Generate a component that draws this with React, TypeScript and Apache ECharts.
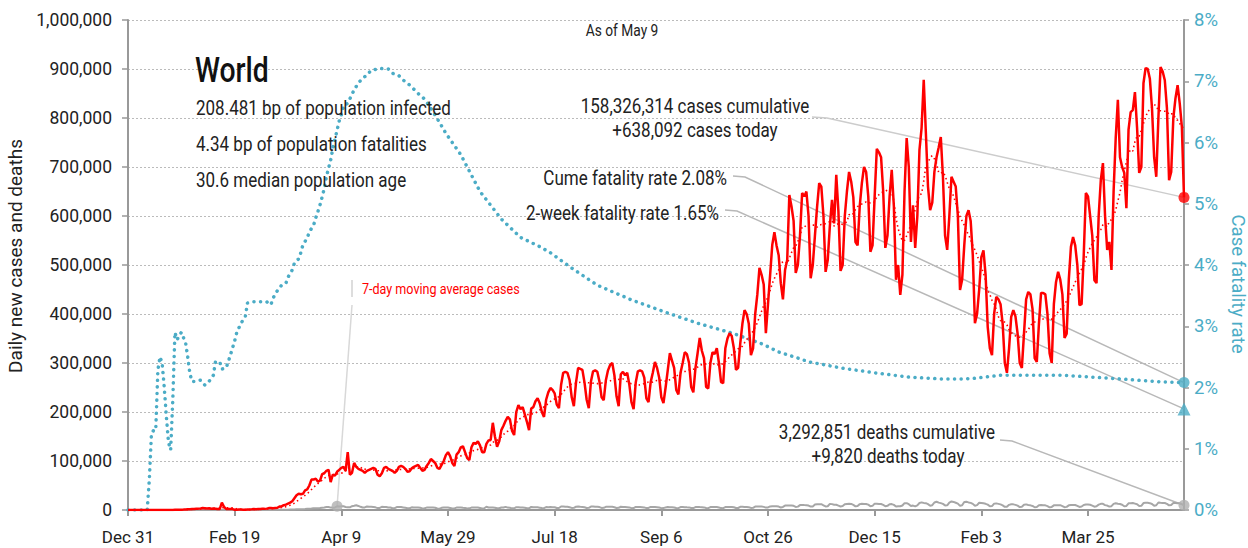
import React, { useEffect, useRef } from "react";
import * as echarts from "echarts";

// ---------- data ----------
const START_UTC = Date.UTC(2019, 11, 31); // day 0 = Dec 31
const MONTHS = ["Jan", "Feb", "Mar", "Apr", "May", "Jun", "Jul", "Aug", "Sep", "Oct", "Nov", "Dec"];
const X_TICK_INTERVAL = 50;
const LAST_DAY = 495;

// Daily new cases, thousands (weeks Tue..Mon)
const casesK: number[] = [
  0, 0, 0, 0, 0, 0, 0,
  0, 0, 0, 0, 0, 0, 0,
  0, 0, 0, 0, 0, 0, 0.1,
  0.1, 0.3, 0.3, 0.5, 0.7, 0.8, 1.0,
  1.5, 1.7, 2.0, 2.1, 2.6, 2.8, 3.2,
  3.9, 3.7, 3.2, 3.4, 2.7, 3.0, 2.5,
  2.0, 2.0, 15.1, 6.5, 2.1, 2.0, 2.0,
  1.8, 0.6, 0.6, 1.0, 1.0, 0.6, 0.7,
  0.9, 1.1, 1.4, 1.8, 1.7, 2.0, 1.9,
  2.5, 2.3, 2.8, 3.9, 4.0, 3.8, 4.2,
  4.6, 7.0, 7.5, 10, 11, 13, 15,
  18, 24, 30, 33, 32, 33, 40,
  42, 50, 62, 62, 64, 58, 60,
  73, 75, 80, 82, 57, 72, 70,
  78, 82, 86, 88, 80, 118, 72,
  76, 96, 88, 84, 82, 80, 76,
  80, 82, 84, 86, 84, 72, 69,
  75, 86, 88, 84, 82, 80, 76,
  80, 88, 90, 88, 84, 78, 79,
  85, 88, 90, 92, 86, 80, 82,
  90, 96, 104, 100, 96, 86, 84,
  92, 100, 112, 118, 110, 96, 90,
  113, 118, 128, 130, 118, 106, 102,
  128, 137, 135, 140, 132, 118, 118,
  135, 142, 143, 178, 150, 129, 140,
  163, 172, 182, 190, 185, 162, 153,
  200, 214, 206, 210, 195, 180, 163,
  207, 210, 222, 228, 218, 200, 190,
  225, 240, 249, 245, 238, 215, 208,
  255, 280, 282, 280, 265, 230, 212,
  260, 290, 288, 286, 260, 225, 208,
  262, 283, 285, 282, 262, 230, 224,
  265, 285, 296, 300, 275, 232, 212,
  277, 282, 275, 280, 256, 220, 206,
  260, 283, 285, 283, 270, 228, 220,
  261, 280, 302, 290, 270, 230, 218,
  250, 285, 320, 305, 290, 245, 236,
  280, 300, 322, 318, 300, 251, 240,
  290, 320, 351, 325, 310, 251, 248,
  300, 322, 318, 330, 300, 261, 259,
  330, 350, 361, 355, 330, 286, 290,
  340, 380, 408, 400, 380, 316, 330,
  400, 440, 494, 480, 460, 361, 420,
  480, 541, 567, 540, 520, 463, 430,
  490, 510, 643, 620, 590, 484, 500,
  560, 647, 640, 650, 600, 473, 500,
  560, 618, 667, 660, 600, 486, 510,
  580, 633, 585, 684, 610, 488, 500,
  600, 650, 690, 670, 638, 547, 540,
  620, 667, 700, 690, 640, 527, 540,
  640, 737, 730, 720, 650, 535, 560,
  640, 694, 620, 470, 500, 439, 480,
  650, 759, 700, 547, 622, 535, 600,
  735, 780, 878, 770, 660, 612, 627,
  690, 720, 740, 761, 680, 560, 531,
  600, 680, 670, 660, 600, 449, 470,
  540, 600, 612, 590, 520, 381, 400,
  450, 516, 530, 480, 373, 330, 316,
  400, 435, 430, 420, 380, 300, 280,
  330, 394, 408, 395, 360, 300, 290,
  360, 430, 445, 440, 410, 310, 302,
  380, 443, 443, 440, 400, 320, 300,
  420, 465, 486, 470, 440, 351, 360,
  470, 537, 557, 540, 500, 418, 420,
  520, 647, 640, 600, 560, 469, 463,
  600, 673, 708, 600, 531, 547, 490,
  650, 760, 837, 720, 700, 688, 616,
  776, 812, 816, 853, 780, 688, 700,
  871, 902, 900, 880, 820, 720, 680,
  800, 904, 895, 877, 820, 673, 690,
  800, 840, 867, 830, 782, 638,
];

// Daily deaths, thousands (weeks Tue..Mon)
const deathsK: number[] = [
  0, 0, 0, 0, 0, 0, 0,
  0, 0, 0, 0, 0, 0, 0,
  0, 0, 0, 0, 0, 0, 0,
  0.01, 0.01, 0.01, 0.02, 0.02, 0.02, 0.03,
  0.03, 0.04, 0.04, 0.05, 0.06, 0.06, 0.06,
  0.07, 0.07, 0.08, 0.09, 0.09, 0.1, 0.1,
  0.1, 0.1, 0.25, 0.14, 0.14, 0.14, 0.1,
  0.1, 0.13, 0.12, 0.1, 0.1, 0.1, 0.15,
  0.07, 0.05, 0.05, 0.06, 0.07, 0.05, 0.07,
  0.08, 0.1, 0.1, 0.1, 0.1, 0.2, 0.2,
  0.3, 0.3, 0.35, 0.4, 0.4, 0.5, 0.8,
  0.9, 1.0, 1.3, 1.4, 1.6, 1.7, 2.0,
  2.4, 2.6, 2.9, 3.6, 3.4, 3.4, 4.0,
  4.7, 5.0, 6.0, 6.1, 4.9, 4.7, 5.3,
  7.5, 7.0, 7.4, 7.5, 6.2, 5.7, 5.5,
  7.7, 8.5, 9.6, 8.3, 6.5, 5.0, 5.3,
  7.1, 6.6, 6.8, 6.1, 5.4, 3.9, 4.3,
  6.4, 6.2, 6.3, 5.3, 5.1, 3.6, 3.7,
  6.0, 6.1, 5.9, 5.3, 4.6, 3.5, 3.6,
  5.4, 5.2, 5.2, 5.2, 4.6, 3.3, 3.5,
  4.9, 5.0, 5.1, 5.0, 4.5, 3.0, 2.7,
  4.4, 5.3, 5.0, 5.0, 4.3, 3.1, 3.2,
  4.9, 5.2, 5.3, 4.6, 4.2, 3.1, 3.4,
  4.9, 5.2, 4.9, 5.0, 4.2, 3.2, 3.6,
  6.6, 5.1, 5.1, 5.0, 4.6, 3.5, 3.5,
  5.2, 5.2, 6.4, 4.9, 4.7, 3.4, 3.5,
  5.7, 5.5, 5.2, 5.1, 4.6, 3.6, 3.5,
  6.3, 5.8, 5.5, 5.6, 4.8, 3.9, 3.8,
  6.1, 5.8, 6.1, 5.8, 5.7, 4.1, 4.0,
  7.1, 7.0, 6.5, 6.6, 5.5, 4.3, 4.4,
  6.6, 6.9, 6.5, 6.3, 5.6, 4.2, 4.4,
  6.9, 7.0, 6.4, 6.7, 6.0, 4.2, 4.5,
  6.5, 6.6, 6.5, 6.5, 5.6, 4.2, 4.4,
  6.6, 6.1, 6.1, 5.8, 5.3, 3.8, 4.0,
  6.2, 6.0, 5.9, 5.8, 5.3, 3.9, 4.3,
  6.3, 6.2, 6.0, 5.7, 5.0, 3.8, 3.9,
  5.3, 6.1, 5.5, 5.6, 5.2, 4.0, 3.8,
  6.0, 6.0, 5.8, 5.5, 5.3, 4.1, 4.0,
  6.0, 6.2, 5.9, 5.7, 5.3, 4.0, 3.8,
  5.9, 6.1, 6.1, 6.0, 5.2, 3.9, 3.8,
  6.0, 6.3, 6.0, 6.3, 5.5, 4.0, 4.1,
  6.4, 6.6, 6.3, 6.3, 5.6, 4.3, 4.4,
  7.0, 7.2, 6.9, 7.1, 6.4, 4.9, 5.2,
  7.3, 7.8, 7.8, 7.6, 7.0, 5.2, 6.2,
  9.0, 9.4, 9.0, 9.4, 8.6, 6.3, 6.9,
  10.0, 10.3, 10.0, 9.8, 9.0, 6.9, 7.3,
  11.0, 11.6, 11.7, 11.8, 9.6, 7.3, 7.6,
  12.5, 12.0, 10.6, 10.6, 8.9, 7.2, 8.0,
  11.7, 12.4, 12.7, 12.4, 10.5, 7.5, 8.3,
  12.0, 12.6, 12.4, 12.2, 11.0, 7.7, 8.5,
  13.0, 12.8, 12.4, 12.2, 10.5, 7.6, 8.5,
  11.8, 12.0, 10.5, 7.0, 7.5, 7.6, 9.2,
  14.0, 14.0, 11.8, 8.0, 9.0, 7.5, 9.5,
  14.2, 15.5, 14.5, 14.0, 12.0, 8.8, 9.8,
  15.3, 16.8, 15.0, 14.0, 12.5, 9.4, 9.5,
  15.2, 17.5, 16.5, 14.8, 13.0, 8.5, 9.6,
  16.5, 16.7, 15.5, 14.5, 12.5, 8.5, 10.0,
  14.8, 14.4, 13.6, 12.6, 11.0, 7.5, 8.0,
  13.0, 13.5, 12.5, 11.5, 9.5, 6.5, 6.5,
  10.5, 11.6, 11.5, 10.5, 8.8, 6.0, 6.8,
  10.8, 11.5, 10.3, 9.5, 8.3, 5.6, 6.1,
  9.6, 10.0, 9.7, 9.5, 8.0, 5.6, 6.3,
  9.5, 9.9, 9.5, 9.8, 8.0, 5.7, 6.4,
  9.5, 10.1, 10.0, 10.2, 8.5, 6.2, 7.0,
  10.3, 11.2, 11.1, 10.6, 9.0, 6.8, 7.7,
  11.0, 12.6, 12.6, 10.0, 9.0, 7.0, 7.8,
  12.5, 13.9, 12.9, 12.3, 10.7, 7.6, 8.3,
  13.6, 14.0, 14.3, 13.0, 11.7, 8.2, 8.6,
  14.2, 14.8, 14.6, 14.0, 12.3, 8.6, 9.7,
  15.3, 14.8, 14.4, 14.3, 12.6, 9.4, 10.4,
  14.1, 14.3, 14.0, 13.8, 12.1, 9.82,
];

// Cumulative case fatality rate (%), [day, value]
const cfrPoints: [number, number][] = [
  [0, 0], [9, 0], [10, 0.5], [11, 1.25], [12, 1.3], [13, 1.3], [14, 2.28], [15, 2.5], [16, 2.4],
  [17, 2.0], [18, 1.52], [19, 1.1], [20, 0.98], [21, 1.8], [22, 2.9], [23, 2.78], [25, 2.9],
  [27, 2.73], [28, 2.5], [29, 2.23], [30, 2.1], [31, 2.1], [34, 2.12], [36, 2.04], [38, 2.1],
  [40, 2.2], [41, 2.42], [43, 2.42], [44, 2.3], [46, 2.32], [47, 2.42], [48, 2.53], [50, 2.76],
  [51, 2.9], [53, 3.05], [55, 3.16], [56, 3.38], [59, 3.4], [62, 3.4], [65, 3.4], [67, 3.35],
  [68, 3.46], [70, 3.58], [72, 3.67], [74, 3.7], [75, 3.8], [77, 3.92], [78, 4.03], [80, 4.1],
  [81, 4.2], [82, 4.33], [84, 4.44], [85, 4.54], [87, 4.65], [88, 4.77], [89, 4.87], [90, 4.98],
  [91, 5.11], [92, 5.25], [93, 5.44], [94, 5.58], [95, 5.71], [96, 5.9], [97, 6.05], [98, 6.2],
  [99, 6.35], [100, 6.45], [101, 6.6], [103, 6.64], [106, 6.86], [108, 6.97], [110, 7.05],
  [112, 7.1], [114, 7.18], [117, 7.2], [120, 7.21], [122, 7.2], [124, 7.13], [127, 7.09],
  [129, 7.02], [132, 6.94], [134, 6.87], [136, 6.8], [139, 6.71], [141, 6.61], [143, 6.5],
  [146, 6.33], [149, 6.15], [156, 5.8], [165, 5.2], [175, 4.75], [184, 4.45], [193, 4.3],
  [198, 4.2], [208, 3.95], [220, 3.67], [236, 3.43], [251, 3.24], [267, 3.05], [283, 2.89],
  [292, 2.78], [298, 2.7], [305, 2.58], [314, 2.48], [319, 2.42], [334, 2.32], [350, 2.24],
  [366, 2.17], [381, 2.14], [391, 2.14], [397, 2.15], [409, 2.2], [412, 2.2], [438, 2.2],
  [461, 2.15], [485, 2.09], [495, 2.08],
];
const TWO_WEEK_CFR = 1.65;

// ---------- styles ----------
const FONT = "Roboto, 'Liberation Sans', sans-serif";
const RED = "#ff0000";
const TEAL = "#4bacc6";
const GRAY = "#a6a6a6";
const TEXT = "#222222";
const SQUEEZE = 0.81; // horizontal squeeze to mimic the condensed face

const dayLabel = (d: number) => {
  const dt = new Date(START_UTC + d * 86400000);
  return MONTHS[dt.getUTCMonth()] + " " + dt.getUTCDate();
};

export default function App() {
  const ref = useRef<HTMLDivElement>(null);

  useEffect(() => {
    if (!ref.current) return;
    const chart = echarts.init(ref.current, null, { renderer: "svg" });

    const cases = casesK.map((v, i) => [i, v * 1000]);
    const deaths = deathsK.map((v, i) => [i, v * 1000]);
    const casesMA = casesK.map((_, i) => {
      const s = Math.max(0, i - 6);
      let sum = 0;
      for (let j = s; j <= i; j++) sum += casesK[j];
      return [i, (sum / (i - s + 1)) * 1000];
    });
    const lastCfr = cfrPoints[cfrPoints.length - 1];

    chart.setOption({
      animation: false,
      grid: {
        left: 128,
        right: 64,
        top: 20,
        bottom: 38,
        containLabel: false,
        outerBoundsMode: "none",
      },
      xAxis: {
        type: "value",
        min: 0,
        max: LAST_DAY,
        interval: X_TICK_INTERVAL,
        axisLine: { show: true, onZero: false, lineStyle: { color: "#999", width: 2 } },
        axisTick: { show: true, length: 6, lineStyle: { color: "#999", width: 2 } },
        axisLabel: {
          formatter: (v: number) => dayLabel(v),
          fontFamily: FONT,
          fontSize: 17,
          color: TEXT,
          margin: 18,
          showMaxLabel: false,
        },
        splitLine: { show: false },
      },
      yAxis: [
        {
          type: "value",
          min: 0,
          max: 1000000,
          interval: 100000,
          name: "Daily new cases and deaths",
          nameLocation: "middle",
          nameRotate: 90,
          nameGap: 101,
          nameTextStyle: { fontFamily: FONT, fontSize: 19, color: TEXT, padding: [0, 0, 0, 18] },
          axisLine: { show: true, lineStyle: { color: "#999", width: 2 } },
          axisTick: { show: true, length: 6, lineStyle: { color: "#999", width: 1.5 } },
          axisLabel: {
            formatter: (v: number) => v.toLocaleString("en-US"),
            fontFamily: FONT,
            fontSize: 17.5,
            color: TEXT,
            margin: 16,
          },
          splitLine: { show: true, lineStyle: { color: "#bbb", width: 1, type: [2, 2] } },
        },
        {
          type: "value",
          min: 0,
          max: 8,
          interval: 1,
          position: "right",
          name: "Case fatality rate",
          nameLocation: "middle",
          nameRotate: -90,
          nameGap: 42,
          nameTextStyle: { fontFamily: FONT, fontSize: 18.5, color: TEAL, padding: [0, 0, 0, 38] },
          axisLine: { show: true, lineStyle: { color: "#999", width: 2 } },
          axisTick: { show: true, length: 5, lineStyle: { color: "#999", width: 1.5 } },
          axisLabel: {
            formatter: "{value}%",
            fontFamily: FONT,
            fontSize: 18.5,
            color: TEAL,
            margin: 10,
          },
          splitLine: { show: false },
        },
      ],
      series: [
        {
          name: "CFR",
          type: "line",
          yAxisIndex: 1,
          data: cfrPoints,
          symbol: "none",
          lineStyle: { color: TEAL, width: 3.5, type: [0.1, 6.5], cap: "round" },
          z: 2,
        },
        {
          name: "Deaths",
          type: "line",
          data: deaths,
          symbol: "none",
          lineStyle: { color: GRAY, width: 2 },
          z: 3,
        },
        {
          name: "Cases 7-day",
          type: "line",
          data: casesMA,
          symbol: "none",
          lineStyle: { color: RED, width: 1.6, type: [1.5, 3] },
          z: 4,
        },
        {
          name: "Cases",
          type: "line",
          data: cases,
          symbol: "none",
          lineStyle: { color: RED, width: 2.5 },
          z: 5,
        },
        {
          type: "scatter",
          data: [cases[LAST_DAY]],
          symbol: "circle",
          symbolSize: 11,
          itemStyle: { color: RED },
          z: 6,
        },
        {
          type: "scatter",
          data: [deaths[LAST_DAY], deaths[98]],
          symbol: "circle",
          symbolSize: 11,
          itemStyle: { color: "#b0b0b0" },
          z: 6,
        },
        {
          type: "scatter",
          yAxisIndex: 1,
          data: [lastCfr],
          symbol: "circle",
          symbolSize: 11,
          itemStyle: { color: TEAL },
          z: 6,
        },
        {
          type: "scatter",
          yAxisIndex: 1,
          data: [[LAST_DAY, TWO_WEEK_CFR]],
          symbol: "triangle",
          symbolSize: 13,
          itemStyle: { color: TEAL },
          z: 6,
        },
      ],
    });

    const px = (pt: number[], yi: number) =>
      chart.convertToPixel({ xAxisIndex: 0, yAxisIndex: yi }, pt) as number[];
    const casesEnd = px(cases[LAST_DAY], 0);
    const deathsEnd = px(deaths[LAST_DAY], 0);
    const cfrEnd = px(lastCfr, 1);
    const twoEnd = px([LAST_DAY, TWO_WEEK_CFR], 1);
    const maAnchor = px(deaths[98], 0);

    const leader = (pts: number[][], color: string) => ({
      type: "polyline",
      shape: { points: pts },
      style: { stroke: color, lineWidth: 1.5, fill: null },
      z: 1,
      silent: true,
    });
    const txt = (
      text: string,
      x: number,
      y: number,
      size: number,
      align: string,
      color = TEXT,
      weight: string | number = "normal"
    ) => ({
      type: "text",
      x,
      y,
      scaleX: SQUEEZE,
      style: {
        text,
        fontFamily: FONT,
        fontSize: size,
        fontWeight: weight,
        fill: color,
        textAlign: align,
        textVerticalAlign: "middle",
        align,
        verticalAlign: "middle",
      },
      z: 10,
      silent: true,
    });

    chart.setOption({
      graphic: [
        leader([[812, 117], [827, 118], casesEnd], "#cccccc"),
        leader([[733, 176], [745, 177], cfrEnd], "#b8b8b8"),
        leader([[725, 210], [737, 211], twoEnd], "#b8b8b8"),
        leader([[1000, 440], [1012, 441], deathsEnd], "#b8b8b8"),
        leader([maAnchor, [352, 305]], "#d8d8d8"),
        {
          type: "line",
          shape: { x1: 352, y1: 280, x2: 352, y2: 297 },
          style: { stroke: "#dddddd", lineWidth: 2 },
          silent: true,
        },
        txt("As of May 9", 622, 31, 17, "center"),
        txt("World", 195, 70, 35, "left", "#111", 500),
        txt("208.481 bp of population infected", 196, 108, 21, "left"),
        txt("4.34 bp of population fatalities", 196, 144, 21, "left"),
        txt("30.6 median population age", 196, 180, 21, "left"),
        txt("158,326,314 cases cumulative", 695, 106, 21, "center"),
        txt("+638,092 cases today", 695, 130, 21, "center"),
        txt("Cume fatality rate 2.08%", 727, 178, 21, "right"),
        txt("2-week fatality rate 1.65%", 719, 213, 21, "right"),
        txt("3,292,851 deaths cumulative", 887, 432, 21, "center"),
        txt("+9,820 deaths today", 888, 456, 21, "center"),
        txt("7-day moving average cases", 362, 289, 15.5, "left", RED),
      ],
    });

    return () => chart.dispose();
  }, []);

  return (
    <div
      ref={ref}
      style={{ position: "fixed", left: 0, top: 0, width: 1248, height: 548, background: "#fff" }}
    />
  );
}
